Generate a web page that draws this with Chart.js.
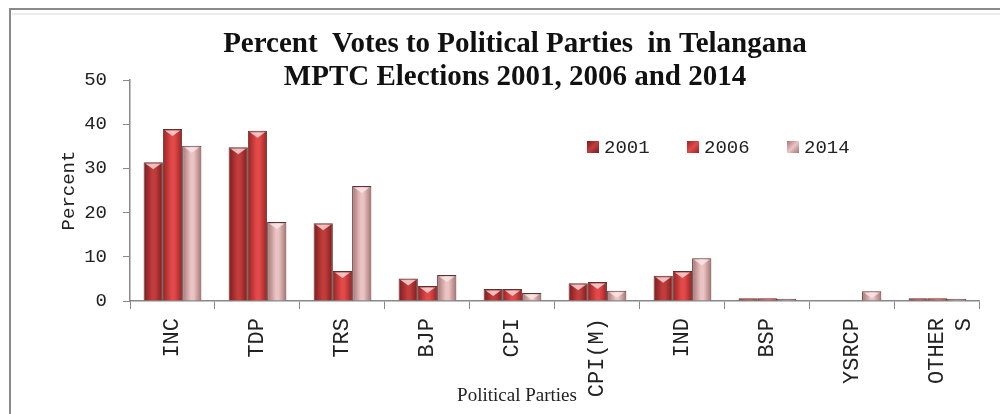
<!DOCTYPE html>
<html>
<head>
<meta charset="utf-8">
<script src="https://cdn.jsdelivr.net/npm/chart.js@4.4.1/dist/chart.umd.min.js"></script>
<style>
html,body{margin:0;padding:0;background:#fff;}
#wrap{width:1000px;height:414px;position:relative;}
</style>
</head>
<body>
<div id="wrap"><canvas id="c" width="1000" height="414"></canvas></div>
<script>
const categories = ['INC','TDP','TRS','BJP','CPI','CPI(M)','IND','BSP','YSRCP',['OTHER','S']];
const seriesNames = ['2001','2006','2014'];
const v2001 = [31.4, 34.8, 17.6, 5.1, 2.7, 4.0, 5.7, 0.6, 0, 0.6];
const v2006 = [38.9, 38.5, 6.8, 3.4, 2.7, 4.3, 6.8, 0.6, 0, 0.6];
const v2014 = [35.1, 17.9, 26.0, 5.9, 1.8, 2.3, 9.7, 0.5, 2.2, 0.5];
const yTicks = [0, 10, 20, 30, 40, 50];
const titleLines = ['Percent  Votes to Political Parties  in Telangana', 'MPTC Elections 2001, 2006 and 2014'];
const xTitle = 'Political Parties';
const yTitle = 'Percent';

const baseColors = ['#b3302f', '#d23c3a', '#d8a4a4'];
const edgeColors = ['#7a1c1c', '#9a2222', '#a67272'];
const midColors  = ['#c23c3c', '#e24a4a', '#eac4c4'];

const styling = {
  id: 'styling',
  beforeDraw(chart) {
    const ctx = chart.ctx;
    ctx.save();
    ctx.fillStyle = '#fff';
    ctx.fillRect(0, 0, chart.width, chart.height);
    ctx.strokeStyle = '#8a8a8a';
    ctx.lineWidth = 2;
    ctx.strokeRect(10, 9, 1200, 600);
    ctx.strokeStyle = '#ececec';
    ctx.lineWidth = 2;
    ctx.beginPath();
    ctx.moveTo(12, 14); ctx.lineTo(1000, 14);
    ctx.stroke();
    ctx.restore();
  },
  beforeDatasetsDraw(chart) {
    const ctx = chart.ctx;
    chart.data.datasets.forEach((ds, di) => {
      const meta = chart.getDatasetMeta(di);
      meta.data.forEach(el => {
        const l = el.x - el.width / 2, r = el.x + el.width / 2;
        const g = ctx.createLinearGradient(l, 0, r, 0);
        g.addColorStop(0, edgeColors[di]);
        g.addColorStop(0.45, midColors[di]);
        g.addColorStop(0.6, midColors[di]);
        g.addColorStop(1, edgeColors[di]);
        el.options = Object.assign({}, el.options, {backgroundColor: g});
      });
    });
  },
  afterDatasetsDraw(chart) {
    const ctx = chart.ctx;
    ctx.save();
    chart.data.datasets.forEach((ds, di) => {
      const meta = chart.getDatasetMeta(di);
      meta.data.forEach(el => {
        const h = el.base - el.y;
        if (h < 4) return;
        const l = el.x - el.width / 2 + 2, r = el.x + el.width / 2 - 2;
        ctx.fillStyle = 'rgba(255,235,235,0.75)';
        ctx.beginPath();
        ctx.moveTo(l, el.y + 1.5);
        ctx.lineTo(r, el.y + 1.5);
        ctx.lineTo(el.x, el.y + Math.min(7, h - 1));
        ctx.closePath();
        ctx.fill();
      });
    });
    ctx.restore();
  },
  afterDraw(chart) {
    const ctx = chart.ctx;
    ctx.save();
    // title
    ctx.fillStyle = '#111';
    ctx.textAlign = 'center';
    ctx.textBaseline = 'middle';
    ctx.font = 'bold 29px "Liberation Serif"';
    ctx.fillText(titleLines[0], 515, 45);
    ctx.fillText(titleLines[1], 515, 78);
    // x axis title
    ctx.font = '19px "Liberation Serif"';
    ctx.fillStyle = '#222';
    ctx.fillText(xTitle, 517, 396);
    // legend
    ctx.textAlign = 'left';
    ctx.font = '19px "Liberation Mono"';
    chart.data.datasets.forEach((ds, di) => {
      const x = 587 + di * 100, y = 147;
      const g = ctx.createLinearGradient(x, y - 6, x + 12, y + 6);
      g.addColorStop(0, edgeColors[di]);
      g.addColorStop(0.5, midColors[di]);
      g.addColorStop(1, edgeColors[di]);
      ctx.fillStyle = g;
      ctx.fillRect(x, y - 6, 12, 12);
      ctx.fillStyle = '#222';
      ctx.fillText(ds.label, x + 17, y + 1);
    });
    ctx.restore();
  }
};

const chart = new Chart(document.getElementById('c'), {
  type: 'bar',
  data: {
    labels: categories,
    datasets: [
      {label: seriesNames[0], data: v2001, backgroundColor: baseColors[0]},
      {label: seriesNames[1], data: v2006, backgroundColor: baseColors[1]},
      {label: seriesNames[2], data: v2014, backgroundColor: baseColors[2]}
    ].map(d => Object.assign(d, {borderColor: '#5a3434', borderWidth: 1, categoryPercentage: 0.68, barPercentage: 1.0}))
  },
  options: {
    responsive: false,
    animation: false,
    devicePixelRatio: 1,
    layout: {padding: {left: 53, top: 80, right: 15, bottom: 0}},
    plugins: {
      legend: {display: false},
      title: {display: false},
      tooltip: {enabled: false}
    },
    scales: {
      x: {
        offset: true,
        grid: {display: true, drawOnChartArea: false, drawTicks: true, tickLength: 8, color: '#888', offset: true},
        border: {display: true, color: '#888', width: 1.5},
        ticks: {
          minRotation: 90, maxRotation: 90, autoSkip: false, padding: 9,
          color: '#222',
          font: {family: '"Liberation Mono"', size: 22}
        },
        afterFit(scale) { scale.height = 113; }
      },
      y: {
        min: 0, max: 50,
        afterBuildTicks(scale) { scale.ticks = yTicks.map(v => ({value: v})); },
        grid: {display: true, drawOnChartArea: false, drawTicks: true, tickLength: 7, color: '#888'},
        border: {display: true, color: '#888', width: 1.5},
        ticks: {padding: 16, color: '#222', font: {family: '"Liberation Mono"', size: 19}},
        title: {display: true, text: yTitle, color: '#222', font: {family: '"Liberation Mono"', size: 19}, padding: {top: 5, bottom: 0}},
        afterFit(scale) { scale.width = 77; }
      }
    }
  },
  plugins: [styling]
});
</script>
</body>
</html>
